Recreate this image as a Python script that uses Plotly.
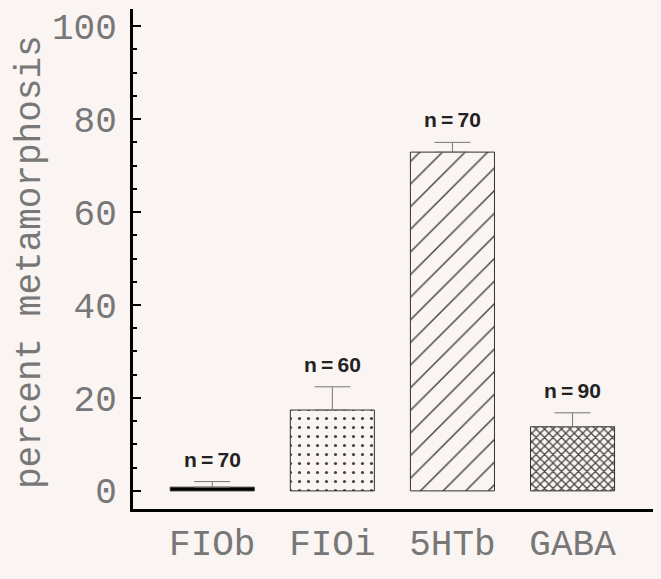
import plotly.graph_objects as go

categories = ["FIOb", "FIOi", "5HTb", "GABA"]
values = [0.8, 17.4, 72.9, 13.8]
err_plus = [1.2, 5.0, 2.1, 3.0]
n_labels = ["n\u2009=\u200970", "n\u2009=\u200960", "n\u2009=\u200970", "n\u2009=\u200990"]
y_tickvals = [0, 20, 40, 60, 80, 100]
y_ticktext = ["0", "20", "40", "60", "80", "100"]
y_title = "percent metamorphosis"

shapes = ["", ".", "/", "x"]
sizes = [8, 9, 16, 6]
solid = [0.2, 0.1, 0.09, 0.38]
fills = ["black", "rgba(0,0,0,0)", "rgba(0,0,0,0)", "rgba(0,0,0,0)"]

bg = "#faf4f2"
mono = "Liberation Mono, Courier New, monospace"
txtcol = "#777"

fig = go.Figure()
fig.add_trace(go.Bar(
    x=categories, y=values, width=0.7,
    marker=dict(
        color=fills,
        line=dict(color="#333", width=1),
        pattern=dict(shape=shapes, size=sizes, solidity=solid,
                     fgcolor="#222", fgopacity=1, bgcolor=bg, fillmode="overlay"),
    ),
    error_y=dict(type="data", symmetric=False, array=err_plus,
                 arrayminus=[0, 0, 0, 0], width=18, thickness=1, color="#777"),
    showlegend=False,
))

for c, v, e, t in zip(categories, values, err_plus, n_labels):
    fig.add_annotation(x=c, y=v + e, text=t, showarrow=False, yanchor="bottom",
                       yshift=9, font=dict(family="Liberation Sans, Arial", size=21,
                                           color="#222", weight="bold"))

fig.add_annotation(xref="paper", yref="paper", x=-0.198, y=0.494, text=y_title,
                   textangle=-90, showarrow=False, xanchor="center", yanchor="middle",
                   font=dict(family=mono, size=36, color=txtcol))

fig.update_layout(
    width=661, height=579,
    margin=dict(l=133, r=8, t=9, b=70),
    paper_bgcolor=bg, plot_bgcolor=bg,
    xaxis=dict(range=[-0.66, 3.67], showline=True, linecolor="black", linewidth=3,
               ticks="", showgrid=False, zeroline=False, automargin=False,
               tickfont=dict(family=mono, size=36, color=txtcol),
               ticklabelstandoff=0),
    yaxis=dict(range=[-3.9, 103.7], showline=True, linecolor="black", linewidth=3,
               tickvals=y_tickvals, ticktext=y_ticktext, automargin=False,
               ticks="inside", ticklen=8, tickwidth=2, tickcolor="black",
               minor=dict(dtick=5, ticks="inside", ticklen=4, tickwidth=2, tickcolor="black"),
               showgrid=False, zeroline=False,
               tickfont=dict(family=mono, size=36, color=txtcol),
               ticklabelstandoff=6),
)

fig.write_html("out.html", config={"displayModeBar": False},
               post_script="document.body.style.margin='0';"
                           "document.body.style.background='" + bg + "';")
